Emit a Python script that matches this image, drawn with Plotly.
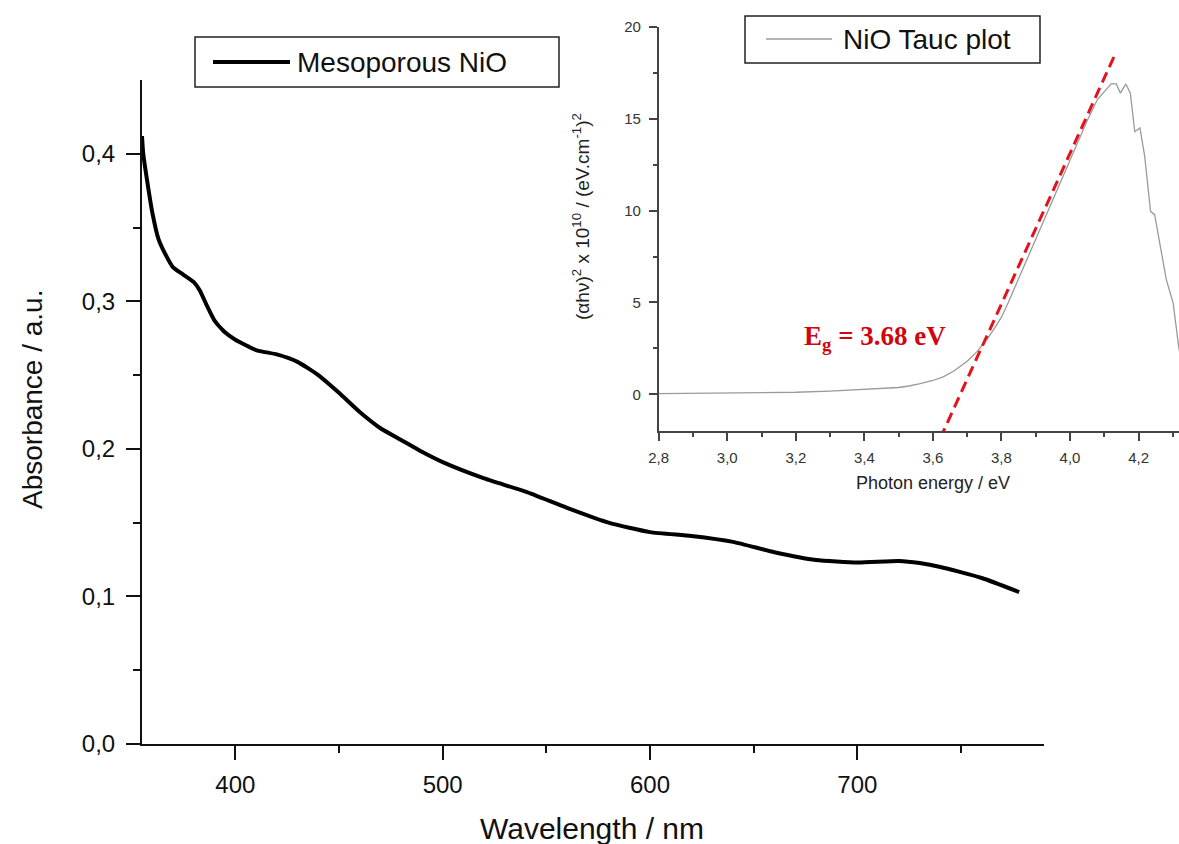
import plotly.graph_objects as go

# ---- UV-Vis absorbance of mesoporous NiO ----
wavelength_nm = [355, 355.6, 358, 360, 363, 367, 370, 375, 380, 383, 386, 390, 395,
                 400, 410, 420, 430, 440, 450, 460, 470, 480, 490, 500, 520, 540,
                 560, 580, 600, 620, 640, 660, 680, 700, 720, 730, 740, 760, 778]
absorbance = [0.412, 0.400, 0.377, 0.360, 0.342, 0.330, 0.323, 0.318, 0.313, 0.307,
              0.298, 0.287, 0.279, 0.274, 0.267, 0.264, 0.259, 0.250, 0.238, 0.225,
              0.214, 0.206, 0.198, 0.191, 0.180, 0.171, 0.160, 0.150, 0.1436, 0.141,
              0.137, 0.130, 0.1247, 0.123, 0.124, 0.1226, 0.120, 0.1125, 0.103]
abs_ticks = [0.0, 0.1, 0.2, 0.3, 0.4]
abs_tick_text = ["0,0", "0,1", "0,2", "0,3", "0,4"]
wl_ticks = [400, 500, 600, 700]

# ---- Tauc plot (inset) ----
photon_ev = [2.80, 3.00, 3.20, 3.30, 3.41, 3.46, 3.50, 3.53, 3.56, 3.60, 3.63, 3.66,
             3.70, 3.73, 3.76, 3.78, 3.80, 3.82, 3.85, 3.90, 3.95, 4.00, 4.05, 4.08,
             4.10, 4.12, 4.135, 4.147, 4.163, 4.176, 4.189, 4.204, 4.218, 4.235,
             4.247, 4.265, 4.281, 4.301, 4.317, 4.33]
tauc_val = [0.04, 0.07, 0.11, 0.17, 0.26, 0.31, 0.37, 0.45, 0.56, 0.75, 0.95, 1.25,
            1.8, 2.35, 3.05, 3.6, 4.2, 5.0, 6.3, 8.5, 10.6, 12.8, 14.9, 16.05,
            16.5, 16.9, 16.9, 16.4, 16.9, 16.4, 14.3, 14.5, 12.95, 9.96,
            9.78, 8.0, 6.24, 4.97, 2.6, 1.2]
ev_ticks = [2.8, 3.0, 3.2, 3.4, 3.6, 3.8, 4.0, 4.2]
ev_tick_text = ["2,8", "3,0", "3,2", "3,4", "3,6", "3,8", "4,0", "4,2"]
tauc_ticks = [0, 5, 10, 15, 20]

# linear fit of the absorption edge, extrapolated to the band gap
eg_value = 3.68
fit_slope = 41.0
fit_v = [-2.4, 18.4]
fit_e = [eg_value + v / fit_slope for v in fit_v]

W, H = 1179, 844


def px(x):
    return x / W


def py(y):
    return 1 - y / H


SANS = "Liberation Sans, Arial, sans-serif"

fig = go.Figure()

fig.add_trace(go.Scatter(
    x=wavelength_nm, y=absorbance, mode="lines", name="Mesoporous NiO",
    line=dict(color="#000000", width=4, shape="spline", smoothing=0.5),
    xaxis="x", yaxis="y", showlegend=False))

fig.add_trace(go.Scatter(
    x=photon_ev, y=tauc_val, mode="lines", name="NiO Tauc plot",
    line=dict(color="#9a9a9a", width=1.3),
    xaxis="x2", yaxis="y2", showlegend=False))

fig.add_trace(go.Scatter(
    x=fit_e, y=fit_v, mode="lines", name="fit",
    line=dict(color="#e3121b", width=3, dash="11px,6px"),
    xaxis="x2", yaxis="y2", showlegend=False))

axis_common = dict(showgrid=False, zeroline=False, showline=True, ticks="outside",
                   automargin=False)

fig.update_layout(
    width=W, height=H,
    margin=dict(l=0, r=0, t=0, b=0),
    paper_bgcolor="white", plot_bgcolor="rgba(0,0,0,0)",
    xaxis=dict(**axis_common, domain=[px(142), px(1044)], range=[355, 790],
               anchor="y", linecolor="#111", linewidth=2,
               tickvals=wl_ticks, ticklen=14, tickwidth=2, tickcolor="#111",
               tickfont=dict(family=SANS, size=24, color="#111"),
               ticklabelstandoff=4,
               minor=dict(tickvals=[450, 550, 650, 750], ticklen=7, tickwidth=2,
                          tickcolor="#111", ticks="outside")),
    yaxis=dict(**axis_common, domain=[py(744), py(80)], range=[0, 0.45],
               anchor="x", linecolor="#111", linewidth=2,
               tickvals=abs_ticks, ticktext=abs_tick_text, ticklen=14, tickwidth=2,
               tickcolor="#111", tickfont=dict(family=SANS, size=24, color="#111"),
               ticklabelstandoff=6,
               minor=dict(tickvals=[0.05, 0.15, 0.25, 0.35], ticklen=7, tickwidth=2,
                          tickcolor="#111", ticks="outside")),
    xaxis2=dict(**axis_common, domain=[px(658.7), 1.0], range=[2.8, 4.318],
                anchor="y2", linecolor="#444", linewidth=1.5,
                tickvals=ev_ticks, ticktext=ev_tick_text, ticklen=8, tickwidth=1.5,
                tickcolor="#444", tickfont=dict(family=SANS, size=15, color="#333"),
                ticklabelstandoff=4,
                minor=dict(tickvals=[2.9, 3.1, 3.3, 3.5, 3.7, 3.9, 4.1, 4.3],
                           ticklen=4, tickwidth=1.5, tickcolor="#444", ticks="outside")),
    yaxis2=dict(**axis_common, domain=[py(431), py(27)], range=[-2, 20],
                anchor="x2", linecolor="#444", linewidth=1.5,
                tickvals=tauc_ticks, ticklen=8, tickwidth=1.5, tickcolor="#444",
                tickfont=dict(family=SANS, size=15, color="#333"),
                ticklabelstandoff=5,
                minor=dict(tickvals=[2.5, 7.5, 12.5, 17.5], ticklen=4, tickwidth=1.5,
                           tickcolor="#444", ticks="outside")),
)

shapes = [
    # legend of the main spectrum
    dict(type="rect", xref="paper", yref="paper", x0=px(195), x1=px(559),
         y0=py(87), y1=py(37), line=dict(color="#222", width=1.5),
         fillcolor="white", layer="above"),
    dict(type="line", xref="paper", yref="paper", x0=px(213), x1=px(290),
         y0=py(62), y1=py(62), line=dict(color="#000", width=4)),
    # legend of the inset
    dict(type="rect", xref="paper", yref="paper", x0=px(745), x1=px(1040),
         y0=py(63), y1=py(16), line=dict(color="#222", width=1.5),
         fillcolor="white", layer="above"),
    dict(type="line", xref="paper", yref="paper", x0=px(766), x1=px(832),
         y0=py(39), y1=py(39), line=dict(color="#9a9a9a", width=1.3)),
]
fig.update_layout(shapes=shapes)

annotations = [
    dict(text="Mesoporous NiO", x=px(295), y=py(62), xanchor="left", yanchor="middle",
         font=dict(family=SANS, size=28, color="#111")),
    dict(text="NiO Tauc plot", x=px(841), y=py(39), xanchor="left", yanchor="middle",
         font=dict(family=SANS, size=28, color="#111")),
    dict(text="Absorbance / a.u.", x=px(32), y=py(400), textangle=-90,
         xanchor="center", yanchor="middle",
         font=dict(family=SANS, size=28, color="#111")),
    dict(text="Wavelength / nm", x=px(592), y=py(828), xanchor="center",
         yanchor="middle", font=dict(family=SANS, size=30, color="#111")),
    dict(text="Photon energy / eV", x=px(933), y=py(483), xanchor="center",
         yanchor="middle", font=dict(family=SANS, size=18, color="#222")),
    dict(text="(αhν)<sup>2</sup> x 10<sup>10</sup> / (eV.cm<sup>-1</sup>)<sup>2</sup>",
         x=px(581), y=py(217), textangle=-90, xanchor="center", yanchor="middle",
         font=dict(family=SANS, size=19, color="#222")),
    dict(text=f"E<sub>g</sub> = {eg_value:.2f} eV", x=px(802), y=py(338),
         xanchor="left", yanchor="middle",
         font=dict(family="Liberation Serif, serif", size=27, color="#d0060f",
                   weight="bold")),
]
for a in annotations:
    a.update(xref="paper", yref="paper", showarrow=False)
fig.update_layout(annotations=annotations)

fig.write_html("out.html")
